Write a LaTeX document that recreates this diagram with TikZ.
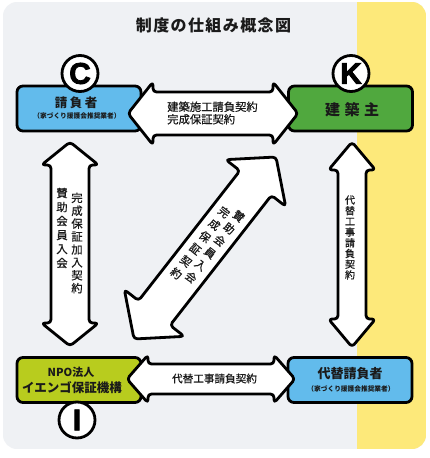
\documentclass[tikz,border=0pt]{standalone}
\usepackage{fontspec}
\usetikzlibrary{calc}
\setmainfont{Liberation Sans}
\newfontfamily\jp{Noto Sans CJK JP}
\newfontfamily\jpm{Noto Sans CJK JP}[FakeBold=0.7]
\newfontfamily\badgefont{Liberation Sans Bold}[FakeBold=2.6]

\definecolor{bggray}{RGB}{239,241,244}
\definecolor{yel}{RGB}{253,233,122}
\definecolor{skyblue}{RGB}{98,187,236}
\definecolor{leafgreen}{RGB}{80,168,62}
\definecolor{limegreen}{RGB}{184,204,30}
\definecolor{ink}{RGB}{26,26,26}

\newcommand{\gp}{\hspace{1.4pt}}
\newcommand{\gq}{\hspace{2.5pt}}
\newcommand{\gr}{\hspace{4.5pt}}

\tikzset{
  box/.style={draw=black, line width=2.8pt, rounded corners=6pt, minimum width=124pt, minimum height=45pt, inner sep=0pt},
  badge/.style={circle, draw=black, line width=2.8pt, fill=white, minimum size=36pt, inner sep=0pt, font=\badgefont\fontsize{30}{30}\selectfont},
  blockarrow/.style={draw=black, fill=white, line width=2.8pt, rounded corners=3.5pt, line join=round},
  lbl/.style={text=ink, inner sep=0pt},
  vcol/.style={text=ink, inner sep=0pt, align=center},
}

% #1 start, #2 end, #3 shaft half width, #4 head half width, #5 head length
\newcommand{\dblarrow}[5]{%
  \coordinate (#1-h) at ($(#1)!#5!(#2)$);
  \coordinate (#2-h) at ($(#2)!#5!(#1)$);
  \draw[blockarrow] (#1) -- ($(#1-h)!#4!90:(#2)$) -- ($(#1-h)!#3!90:(#2)$)
    -- ($(#2-h)!#3!-90:(#1)$) -- ($(#2-h)!#4!-90:(#1)$) -- (#2)
    -- ($(#2-h)!#4!90:(#1)$) -- ($(#2-h)!#3!90:(#1)$)
    -- ($(#1-h)!#3!-90:(#2)$) -- ($(#1-h)!#4!-90:(#2)$) -- cycle;
}

\begin{document}
\begin{tikzpicture}[x=1pt,y=-1pt]
\useasboundingbox (0,0) rectangle (430,458);
\fill[white] (0,0) rectangle (430,458);
\begin{scope}
  \clip[rounded corners=14pt] (3,2) rectangle (426,449);
  \fill[bggray] (3,2) rectangle (426,449);
  \fill[yel] (357,2) rectangle (426,449);
\end{scope}

% title
\node[lbl, font=\jp\bfseries\fontsize{16}{16}\selectfont] (title) at (213.5,25)
  {制\gp 度\gp の\gp 仕\gp 組\gp み\gp 概\gp 念\gp 図};

% boxes
\node[box, fill=skyblue] (C) at (79,108.5) {};
\node[box, fill=leafgreen] (K) at (350.5,108.5) {};
\node[box, fill=limegreen] (I) at (79,380) {};
\node[box, fill=skyblue] (S) at (350,380) {};

% badges
\node[badge] (bC) at (80,73.5) {C};
\node[badge] (bK) at (351,73.5) {K};
\node[badge] (bI) at (77,420) {I};

% arrow end points
\coordinate (ta1) at (128,113.5);
\coordinate (ta2) at (298,113.5);
\coordinate (ba1) at (127,379);
\coordinate (ba2) at (295,379);
\coordinate (la1) at (70,142);
\coordinate (la2) at (70,346);
\coordinate (ra1) at (352,142);
\coordinate (ra2) at (352,347);
\coordinate (da1) at (134,339);
\coordinate (da2) at (276,157);

\dblarrow{ta1}{ta2}{21.5pt}{31.5pt}{25pt}
\dblarrow{ba1}{ba2}{15pt}{24pt}{21pt}
\dblarrow{la1}{la2}{19pt}{28.5pt}{23pt}
\dblarrow{ra1}{ra2}{14pt}{23.5pt}{28pt}
\dblarrow{da1}{da2}{20pt}{38pt}{33pt}

% box texts
\node[lbl, font=\jp\bfseries\fontsize{12.5}{12.5}\selectfont] (Ct) at (76,103) {請\gq 負\gq 者};
\node[lbl, font=\jp\bfseries\fontsize{6.7}{6.7}\selectfont] (Cs) at (77,115.5) {（家づくり援護会推奨業者）};
\node[lbl, font=\jp\bfseries\fontsize{15}{15}\selectfont] (Kt) at (352,110) {建\gr 築\gr 主};
\node[lbl, font=\jp\bfseries\fontsize{11}{11}\selectfont] (It1) at (71,372) {NPO法人};
\node[lbl, font=\jp\bfseries\fontsize{12.5}{12.5}\selectfont] (It2) at (72,387.5) {イエンゴ保証機構};
\node[lbl, font=\jp\bfseries\fontsize{13}{13}\selectfont] (St) at (350,374) {代替請負者};
\node[lbl, font=\jp\bfseries\fontsize{6.7}{6.7}\selectfont] (Ss) at (351,388.5) {（家づくり援護会推奨業者）};

% arrow texts
\node[vcol, align=left, font=\jpm\fontsize{11.3}{12.5}\selectfont] (tt) at (212.5,113) {建築施工請負契約\\完成保証契約};
\node[lbl, font=\jpm\fontsize{10.6}{10.6}\selectfont] (bt) at (214.5,378.5) {代替工事請負契約};
\node[vcol, font=\jpm\fontsize{11.3}{12.9}\selectfont] (lt1) at (77,243) {完\\成\\保\\証\\加\\入\\契\\約};
\node[vcol, font=\jpm\fontsize{11.3}{14}\selectfont] (lt2) at (62,228) {賛\\助\\会\\員\\入\\会};
\node[vcol, font=\jpm\fontsize{10}{10.7}\selectfont] (rt) at (350,237.5) {代\\替\\工\\事\\請\\負\\契\\約};
\begin{scope}[shift={(205,248)}, rotate=-38]
  \node[lbl, transform shape, font=\jpm\fontsize{11}{15.5}\selectfont] (dt) at (0,-3)
    {\begin{tabular}[t]{@{}c@{}}完\\成\\保\\証\\契\\約\end{tabular}\hspace{3pt}%
     \raisebox{6pt}{\begin{tabular}[t]{@{}c@{}}賛\\助\\会\\員\\入\\会\end{tabular}}};
\end{scope}
\end{tikzpicture}
\end{document}
